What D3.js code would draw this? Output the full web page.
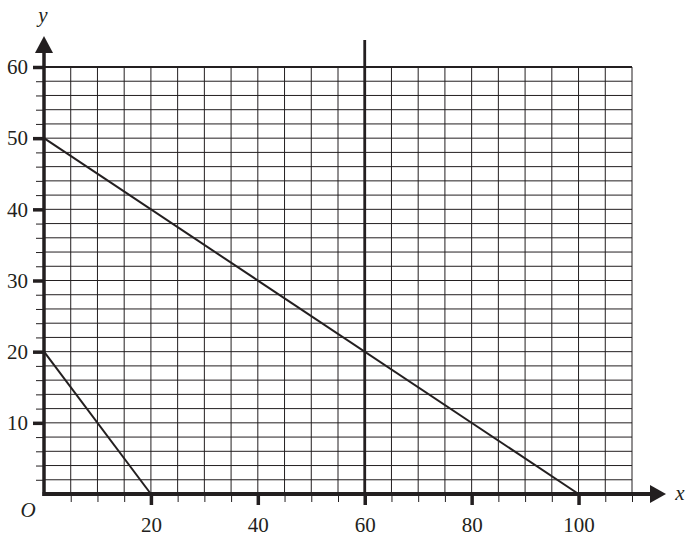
<!DOCTYPE html>
<html>
<head>
<meta charset="utf-8">
<script src="https://cdn.jsdelivr.net/npm/d3@7"></script>
<style>
  body { margin: 0; background: #fff; }
  svg text { font-family: "Liberation Serif", "Times New Roman", serif; fill: #231f20; }
</style>
</head>
<body>
<svg id="chart" width="690" height="540"></svg>
<script>
// tick labels on each axis
const xTickLabels = [20, 40, 60, 80, 100];
const yTickLabels = [10, 20, 30, 40, 50, 60];
// grid spacing (x every 5, y every 2)
const xGridValues = d3.range(5, 111, 5);
const yGridValues = d3.range(2, 61, 2);
// the three lines drawn on the grid
const lineA = [{x: 0, y: 50}, {x: 100, y: 0}];
const lineB = [{x: 0, y: 20}, {x: 20, y: 0}];
const verticalX = [60];

let svg = d3.select("#chart");
let ink = "#231f20";

let x = d3.scaleLinear().domain([0, 110]).range([44, 632]);
let y = d3.scaleLinear().domain([0, 60]).range([494, 67]);

// grid
svg.append("g").selectAll("line")
   .data(xGridValues)
   .join("line")
   .attr("x1", d => x(d)).attr("x2", d => x(d))
   .attr("y1", y(0)).attr("y2", y(60))
   .attr("stroke", ink).attr("stroke-width", 1);

svg.append("g").selectAll("line")
   .data(yGridValues)
   .join("line")
   .attr("x1", x(0)).attr("x2", x(110))
   .attr("y1", d => y(d)).attr("y2", d => y(d))
   .attr("stroke", ink)
   .attr("stroke-width", d => d === 60 ? 1.8 : 1);

// x axis ticks: minor every 5, major at labels
let xAxis = svg.append("g").attr("transform", `translate(0,${y(0)})`);
xAxis.call(d3.axisBottom(x).tickValues(xGridValues).tickSize(8).tickFormat(""))
     .call(g => g.select(".domain").remove())
     .selectAll("line").attr("stroke", ink).attr("stroke-width", 1);
let xMajor = svg.append("g").attr("transform", `translate(0,${y(0)})`);
xMajor.call(d3.axisBottom(x).tickValues(xTickLabels).tickSize(11).tickPadding(12))
      .call(g => g.select(".domain").remove());
xMajor.selectAll("line").attr("stroke", ink).attr("stroke-width", 3.5);
xMajor.selectAll("text").attr("font-size", 21).attr("fill", ink)
      .style("font-family", "'Liberation Serif', serif");

// y axis ticks
let yAxis = svg.append("g").attr("transform", `translate(${x(0)},0)`);
yAxis.call(d3.axisLeft(y).tickValues(yGridValues).tickSize(8).tickFormat(""))
     .call(g => g.select(".domain").remove())
     .selectAll("line").attr("stroke", ink).attr("stroke-width", 1);
let yMajor = svg.append("g").attr("transform", `translate(${x(0)},0)`);
yMajor.call(d3.axisLeft(y).tickValues(yTickLabels).tickSize(11).tickPadding(5))
      .call(g => g.select(".domain").remove());
yMajor.selectAll("line").attr("stroke", ink).attr("stroke-width", 3.5);
yMajor.selectAll("text").attr("font-size", 21).attr("fill", ink)
      .style("font-family", "'Liberation Serif', serif");

// main axes with arrows
svg.append("line")
   .attr("x1", x(0) - 1.5).attr("x2", 652)
   .attr("y1", y(0)).attr("y2", y(0))
   .attr("stroke", ink).attr("stroke-width", 4);
svg.append("path")
   .attr("d", `M${650},${y(0) - 9}L${666},${y(0)}L${650},${y(0) + 9}Z`)
   .attr("fill", ink);

svg.append("line")
   .attr("x1", x(0)).attr("x2", x(0))
   .attr("y1", y(0) + 2).attr("y2", 50)
   .attr("stroke", ink).attr("stroke-width", 3.5);
svg.append("path")
   .attr("d", `M${x(0) - 9},${53}L${x(0)},${36}L${x(0) + 9},${53}Z`)
   .attr("fill", ink);

// vertical line
svg.append("g").selectAll("line")
   .data(verticalX)
   .join("line")
   .attr("x1", d => x(d)).attr("x2", d => x(d))
   .attr("y1", y(0)).attr("y2", 40)
   .attr("stroke", ink).attr("stroke-width", 2.8);

// sloped lines
let line = d3.line().x(d => x(d.x)).y(d => y(d.y));
[lineA, lineB].forEach(function(pts) {
  svg.append("path")
     .datum(pts)
     .attr("d", line)
     .attr("fill", "none")
     .attr("stroke", ink)
     .attr("stroke-width", 2);
});

// axis letters
svg.append("text").attr("x", 28).attr("y", 517)
   .attr("text-anchor", "middle").attr("font-size", 21).attr("font-style", "italic").text("O");
svg.append("text").attr("x", 680).attr("y", 500)
   .attr("text-anchor", "middle").attr("font-size", 21).attr("font-style", "italic").text("x");
svg.append("text").attr("x", 43).attr("y", 22)
   .attr("text-anchor", "middle").attr("font-size", 21).attr("font-style", "italic").text("y");
</script>
</body>
</html>
